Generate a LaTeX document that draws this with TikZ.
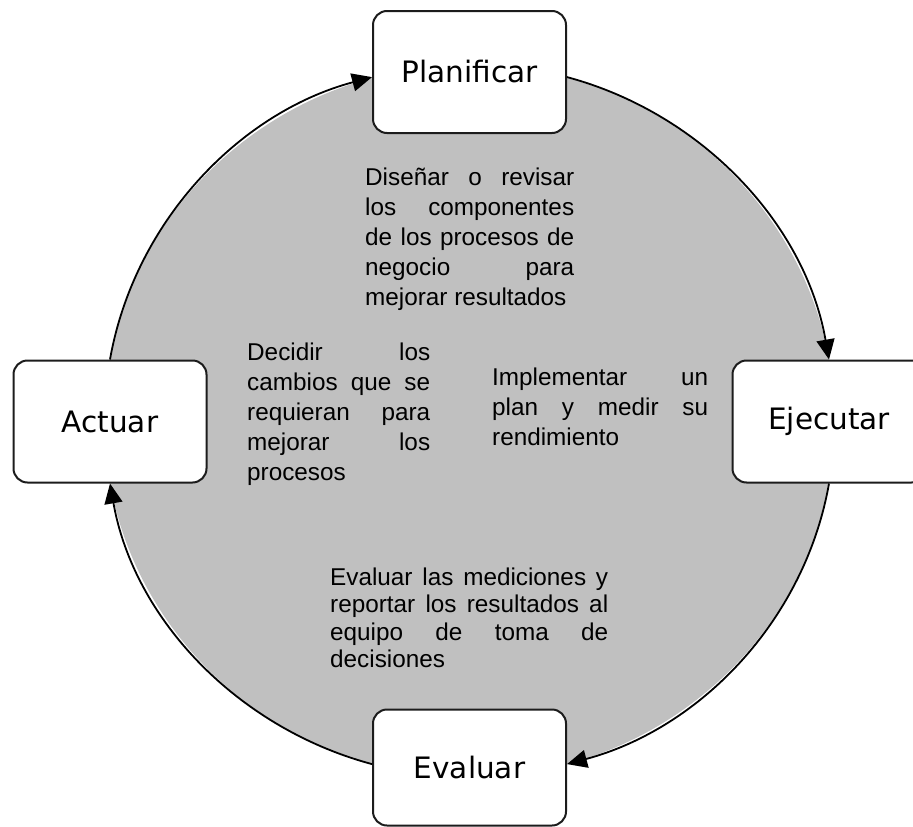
\documentclass[tikz,border=0pt]{standalone}
\usepackage{fontspec}
\setmainfont{Liberation Sans}
\newfontfamily\boxfont{DejaVu Sans}
\usetikzlibrary{arrows.meta}
\definecolor{discgray}{RGB}{192,192,192}
\definecolor{edgegray}{RGB}{28,28,28}
\pretolerance=10000
\tolerance=10000
\hbadness=10000
\begin{document}
\begin{tikzpicture}[x=1pt,y=-1pt,
    stage/.style={rectangle,draw=edgegray,line width=2pt,fill=white,rounded corners=14pt,minimum width=193pt,minimum height=122pt,font=\boxfont\fontsize{29.5pt}{33pt}\selectfont},
    note/.style={anchor=north west,inner sep=0pt,align=justify,font=\fontsize{24.3pt}{30pt}\selectfont},
    cycle/.style={line width=1.8pt,-{Triangle[length=20pt,width=18pt]},looseness=0.92}]
\useasboundingbox (0,0) rectangle (913,827);
\clip (0,0) rectangle (913,827);
% disc behind the cycle
\fill[discgray] (469.5,421) ellipse [x radius=365pt, y radius=356pt];
% the four stages
\node[stage] (plan) at (469.5,72) {Planificar};
\node[stage] (ejec) at (829,421.5) {Ejecutar};
\node[stage,minimum height=116pt] (eval) at (469.5,767.5) {Evaluar};
\node[stage] (act) at (110,421.5) {Actuar};
% texts inside the disc
\node[note,text width=209pt] (tplan) at (365,167.5) {Diseñar o revisar\linebreak los componentes\linebreak de los procesos de\linebreak negocio para\linebreak mejorar resultados};
\node[note,text width=183pt] (tact) at (247,342.5) {Decidir los\linebreak cambios que se\linebreak requieran para\linebreak mejorar los\linebreak procesos};
\node[note,text width=216pt] (tejec) at (492,367.5) {Implementar un\linebreak plan y medir su\linebreak rendimiento};
\node[note,text width=278pt,font=\fontsize{24.3pt}{27.5pt}\selectfont] (teval) at (330,567.5) {Evaluar las mediciones y\linebreak reportar los resultados al\linebreak equipo de toma de\linebreak decisiones};
% the cycle
\draw[cycle] (plan.-3.5) to[out=-15,in=100] (ejec.north);
\draw[cycle] (ejec.south) to[out=-100,in=15] (eval.2);
\draw[cycle] (eval.178) to[out=165,in=-80] (act.south);
\draw[cycle] (act.north) to[out=80,in=195] (plan.183.5);
\end{tikzpicture}
\end{document}
